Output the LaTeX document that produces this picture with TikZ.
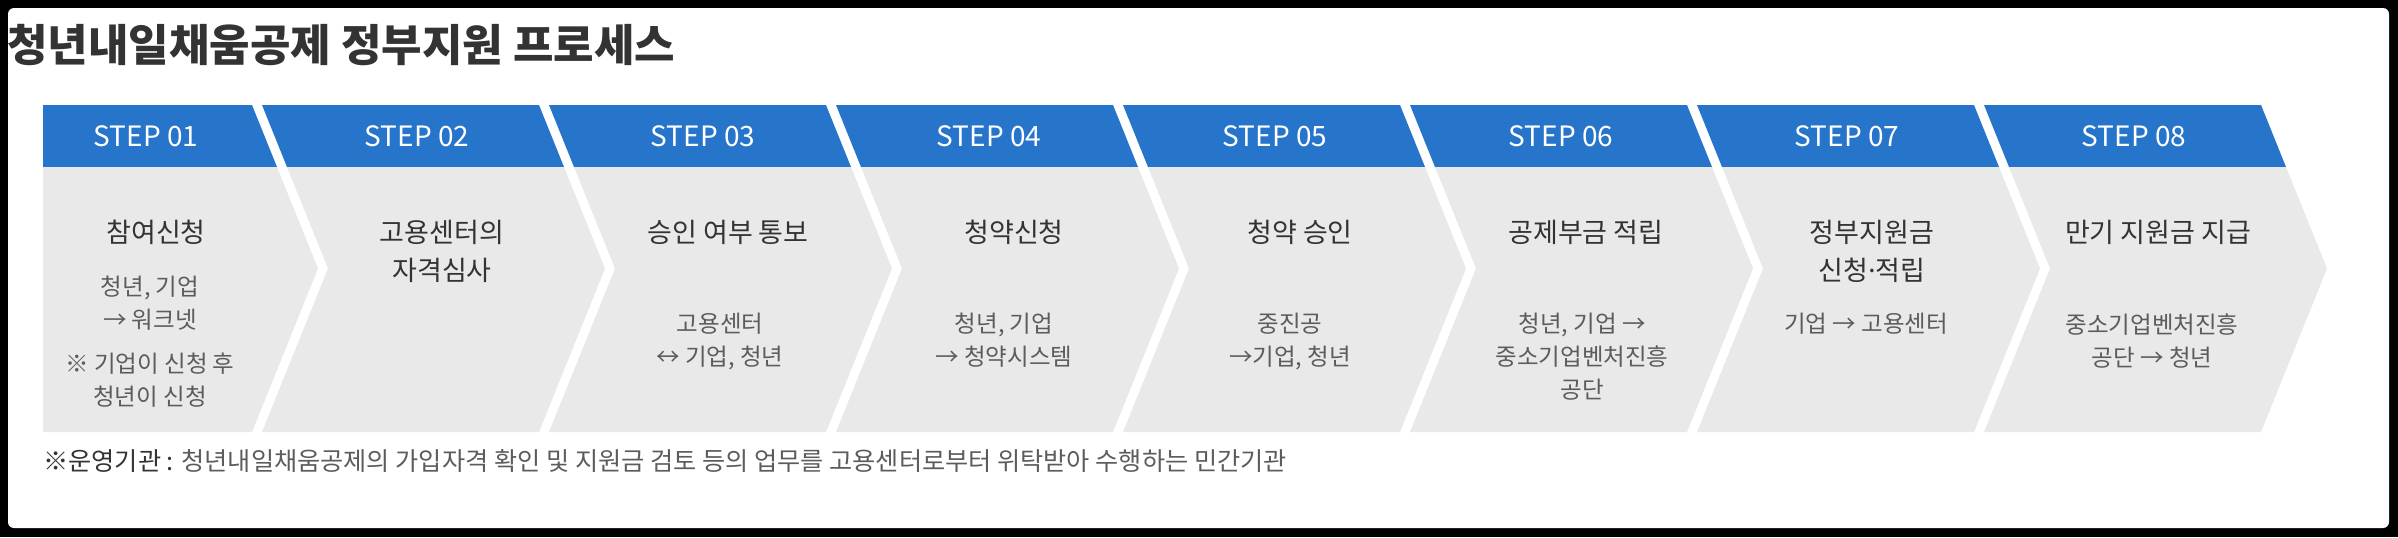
\documentclass[tikz,border=0pt]{standalone}
\usepackage{fontspec}
\setmainfont{Noto Sans CJK KR}
\newfontfamily\latinfont{Noto Sans}
\usepackage{xcolor}
\usepackage{tikz}
\definecolor{stepblue}{HTML}{2775CB}
\definecolor{stepgray}{HTML}{E9E9E9}
\definecolor{titlegray}{HTML}{333333}
\definecolor{descgray}{HTML}{5C5C5C}
\def\stepshape#1#2{
	\fill[stepblue] (#1,105)--(#2,105)--(#2+25,167)--(#1+25,167)--cycle;
	\fill[stepgray] (#1+25,167)--(#2+25,167)--(#2+66,268.5)--(#2,432)--(#1,432)--(#1+66,268.5)--cycle;
	}
\tikzset{
	stephead/.style={text=white,inner sep=0pt,font=\fontsize{14}{16}\selectfont},
	steptitle/.style={text=titlegray,anchor=north,inner sep=0pt,align=center,font=\fontsize{13.5}{19}\selectfont},
	stepdesc/.style={text=descgray,anchor=north,inner sep=0pt,align=center,font=\fontsize{11.75}{16.5}\selectfont}
}

\begin{document}
\begin{tikzpicture}[x=0.5pt,y=-0.5pt]
					\useasboundingbox (0,0) rectangle (2398,537);
					\fill[black] (0,0) rectangle (2398,537);
					\fill[white,rounded corners=3] (8,8) rectangle (2389,528);
					\node[anchor=north west,inner sep=0pt,text=titlegray,font=\bfseries\fontsize{22}{26}\selectfont] (title) at (7,24) {청년내일채움공제 정부지원 프로세스};
					\fill[stepblue] (43,105)--(252,105)--(277,167)--(43,167)--cycle;
					\fill[stepgray] (43,167)--(277,167)--(318,268.5)--(252,432)--(43,432)--cycle;
					\stepshape{262}{539}
					\stepshape{549}{826}
					\stepshape{836}{1113}
					\stepshape{1123}{1400}
					\stepshape{1410}{1687}
					\stepshape{1697}{1974}
					\stepshape{1984}{2261}
					\node[stephead] (h1) at (146,136) {STEP 01};
					\node[stephead] (h2) at (417,136) {STEP 02};
					\node[stephead] (h3) at (703,136) {STEP 03};
					\node[stephead] (h4) at (989,136) {STEP 04};
					\node[stephead] (h5) at (1275,136) {STEP 05};
					\node[stephead] (h6) at (1561,136) {STEP 06};
					\node[stephead] (h7) at (1847,136) {STEP 07};
					\node[stephead] (h8) at (2134,136) {STEP 08};
					\node[steptitle] (t1) at (156,220) {참여신청};
					\node[steptitle] (t2) at (442,220) {고용센터의\\자격심사};
					\node[steptitle] (t3) at (728,220) {승인 여부 통보};
					\node[steptitle] (t4) at (1014,220) {청약신청};
					\node[steptitle] (t5) at (1300,220) {청약 승인};
					\node[steptitle] (t6) at (1586,220) {공제부금 적립};
					\node[steptitle] (t7) at (1872,220) {정부지원금\\신청{\latinfont ·}적립};
					\node[steptitle] (t8) at (2158,220) {만기 지원금 지급};
					\node[stepdesc] (d1) at (150,276) {청년, 기업\\→ 워크넷\\[5.5pt]※ 기업이 신청 후\\청년이 신청};
					\node[stepdesc] (d3) at (720,313) {고용센터\\↔ 기업, 청년};
					\node[stepdesc] (d4) at (1004,313) {청년, 기업\\→ 청약시스템};
					\node[stepdesc] (d5) at (1290,313) {중진공\\→기업, 청년};
					\node[stepdesc] (d6) at (1582,313) {청년, 기업 →\\중소기업벤처진흥\\공단};
					\node[stepdesc] (d7) at (1866,313) {기업 → 고용센터};
					\node[stepdesc] (d8) at (2152,313) {중소기업벤처진흥\\공단 → 청년};
					\node[anchor=west,inner sep=0pt,text=descgray,font=\fontsize{12.6}{15}\selectfont] (note) at (43,461) {\textcolor{titlegray}{※운영기관 :} 청년내일채움공제의 가입자격 확인 및 지원금 검토 등의 업무를 고용센터로부터 위탁받아 수행하는 민간기관};
				\end{tikzpicture}
\end{document}
